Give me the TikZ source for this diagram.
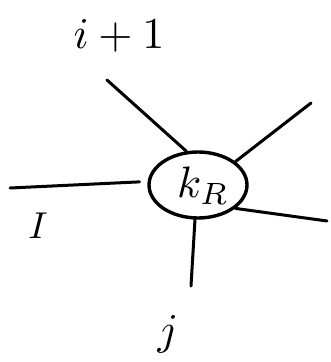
\documentclass[tikz,border=0pt]{standalone}
\usetikzlibrary{shapes.geometric}

\begin{document}
\begin{tikzpicture}[x=1pt,y=-1pt,line width=3.4pt,line cap=round,
  leg/.style={line width=3pt},
  lbl/.style={inner sep=0pt,scale=4.4}]
\useasboundingbox (0,0) rectangle (330,362);
\node[draw,ellipse,inner sep=0pt,minimum width=98pt,minimum height=66pt] (kr) at (198,185) {};
\node[lbl] (krl) at (203,186) {$k_R$};
\coordinate (ul) at (107,80);
\coordinate (ur) at (311,103);
\coordinate (lf) at (10,188);
\coordinate (rt) at (327,221);
\coordinate (bt) at (191,286);
\draw[leg] (kr.109)--(ul);
\draw[leg] (kr.32)--(ur);
\draw[leg,shorten <=8pt] (kr.176)--(lf);
\draw[leg] (kr.-32)--(rt);
\draw[leg] (kr.-95)--(bt);
\node[lbl] (ip) at (119,36) {$i+1$};
\node[lbl,scale=0.85] (ii) at (38,226) {$I$};
\node[lbl] (jj) at (168,334) {$j$};
\end{tikzpicture}
\end{document}
